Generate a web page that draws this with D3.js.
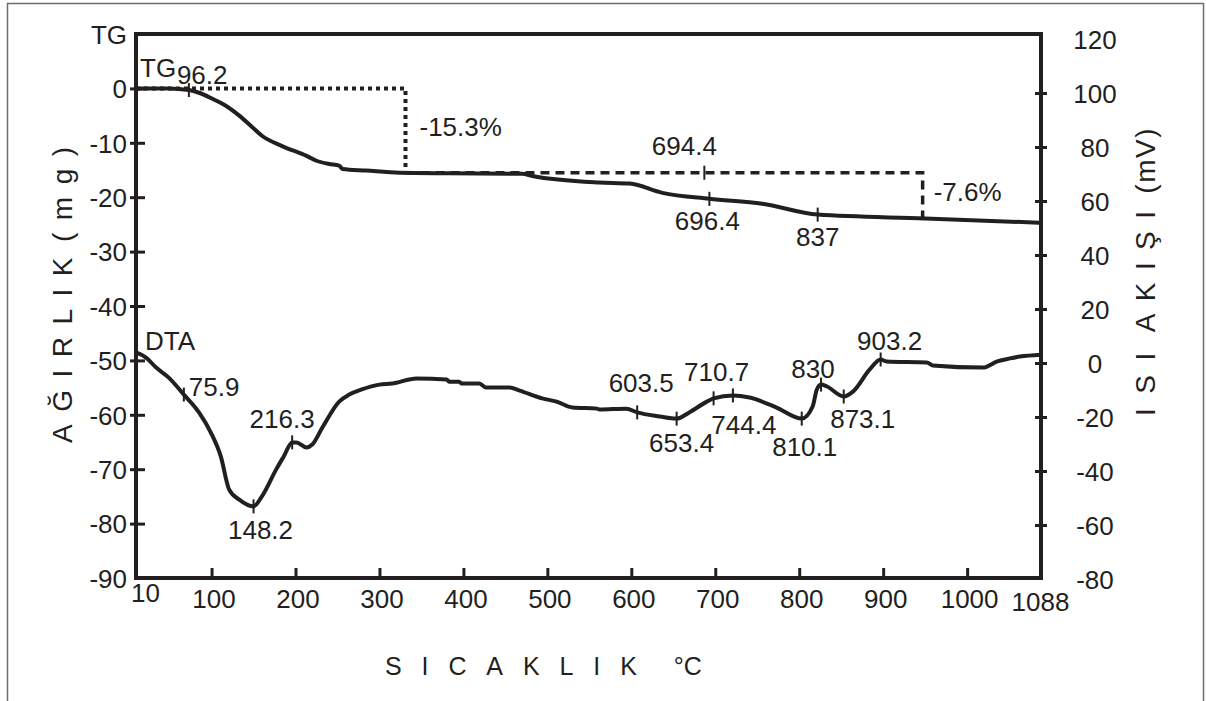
<!DOCTYPE html>
<html>
<head>
<meta charset="utf-8">
<script src="https://cdn.jsdelivr.net/npm/d3@7"></script>
<style>
  body { margin: 0; background: #fff; }
  svg { display: block; font-family: "Liberation Sans", Arial, Helvetica, sans-serif; }
  text { fill: #231f20; }
</style>
</head>
<body>
<svg id="chart" width="1206" height="701"></svg>
<script>
// TG curve (weight, mg)
const tgTemp = [10, 49, 73, 85, 101, 115, 133, 147, 160, 184, 213, 225, 240, 252, 256, 284, 324, 383, 470, 482, 562, 598, 637, 693, 756, 822, 950, 1088];
const tgMass = [0, 0, -0.3, -0.8, -1.9, -3.0, -5.0, -6.9, -8.7, -10.6, -12.4, -13.3, -13.9, -14.2, -14.8, -15.1, -15.5, -15.6, -15.7, -16.1, -17.3, -17.5, -19.2, -20.3, -21.2, -23.2, -23.9, -24.7];

// DTA curve (heat flow, mV)
const dtaTemp = [10, 22, 34, 49, 67, 85, 99, 111, 121, 133, 150, 160, 177, 186, 196, 201, 213, 220, 232, 252, 264, 279, 300, 315, 344, 380, 383, 395, 398, 419, 427, 455, 467, 494, 511, 530, 559, 562, 594, 607, 634, 654, 669, 690, 698, 721, 741, 773, 803, 816, 821, 826, 833, 853, 864, 884, 897, 904, 952, 959, 1019, 1036, 1051, 1063, 1088];
const dtaSignal = [3.9, 2.0, -1.7, -5.4, -11.7, -18.3, -25.7, -34.6, -46.9, -50.6, -53.1, -49.4, -39.4, -34.6, -29.4, -29.4, -31.3, -30.2, -23.9, -14.3, -11.7, -9.8, -8.0, -7.6, -5.7, -6.1, -6.9, -6.9, -7.6, -7.6, -9.1, -9.1, -10.2, -13.1, -14.3, -16.5, -16.9, -17.2, -16.9, -18.3, -19.8, -20.6, -18.3, -14.3, -13.1, -12.0, -12.8, -16.5, -20.6, -16.1, -9.8, -8.0, -8.7, -12.4, -10.6, -2.4, 1.3, 0.6, 0.2, -0.9, -1.7, 0.6, 1.7, 2.4, 3.1];

// mass-loss steps
const dottedTemp = [10, 331, 331];
const dottedMass = [0, 0, -15.5];
const dashedTemp = [331, 947, 947];
const dashedMass = [-15.5, -15.5, -23.8];

// marked points
const tgMarkTemp = [73, 693, 822];
const tgMarkLabel = ["96.2", "696.4", "837"];
const stepMarkTemp = [687];
const stepMarkLabel = ["694.4"];
const dtaMarkTemp = [67, 150, 196, 607, 654, 698, 721, 803, 826, 853, 897];
const dtaMarkLabel = ["75.9", "148.2", "216.3", "603.5", "653.4", "710.7", "744.4", "810.1", "830", "873.1", "903.2"];

// axis ticks
const xTicks = [10, 100, 200, 300, 400, 500, 600, 700, 800, 900, 1000, 1088];
const leftTicks = [-90, -80, -70, -60, -50, -40, -30, -20, -10, 0, 10];
const rightTicks = [-80, -60, -40, -20, 0, 20, 40, 60, 80, 100, 120];

// label placement (anchor, dx, dy from the mark, px)
const labelPlace = {
  "96.2": ["start", -12, -15], "696.4": ["middle", -2, 22], "837": ["middle", 0, 22],
  "694.4": ["middle", -20, -27],
  "75.9": ["start", 5, -8], "148.2": ["middle", 7, 23], "216.3": ["middle", -10, -24],
  "603.5": ["middle", 4, -30], "653.4": ["middle", 5, 24], "710.7": ["middle", 3, -27],
  "744.4": ["middle", 11, 29], "810.1": ["middle", 3, 28], "830": ["middle", -8, -16],
  "873.1": ["middle", 19, 22], "903.2": ["middle", 9, -19],
};

const ink = "#231f20";
const fontSize = 26;
const svg = d3.select("#chart");

const x = d3.scaleLinear().domain([10, 1088]).range([136, 1041]);
const yL = d3.scaleLinear().domain([-90, 10]).range([578, 34]);
const yR = d3.scaleLinear().domain([-80, 120]).range([579, 39]);

// outer border
svg.append("rect")
  .attr("x", 7.5).attr("y", 3.5).attr("width", 1196).attr("height", 720)
  .attr("fill", "none").attr("stroke", "#6d6e70").attr("stroke-width", 1.5);

function interp(xs, ys, v) {
  const i = Math.max(1, Math.min(xs.length - 1, d3.bisectLeft(xs, v)));
  const t = (v - xs[i - 1]) / (xs[i] - xs[i - 1]);
  return ys[i - 1] + t * (ys[i] - ys[i - 1]);
}

// step lines
const stepLine = d3.line().x((d) => x(d[0])).y((d) => yL(d[1]));
svg.append("path")
  .attr("d", stepLine(d3.zip(dottedTemp, dottedMass)))
  .attr("fill", "none").attr("stroke", ink).attr("stroke-width", 4)
  .attr("stroke-dasharray", "4,4");
svg.append("path")
  .attr("d", stepLine(d3.zip(dashedTemp, dashedMass)))
  .attr("fill", "none").attr("stroke", ink).attr("stroke-width", 3.5)
  .attr("stroke-dasharray", "9,6");

// curves
svg.append("path")
  .attr("d", d3.line().x((d) => x(d[0])).y((d) => yL(d[1])).curve(d3.curveMonotoneX)(d3.zip(tgTemp, tgMass)))
  .attr("fill", "none").attr("stroke", ink).attr("stroke-width", 4).attr("stroke-linejoin", "round");
svg.append("path")
  .attr("d", d3.line().x((d) => x(d[0])).y((d) => yR(d[1])).curve(d3.curveMonotoneX)(d3.zip(dtaTemp, dtaSignal)))
  .attr("fill", "none").attr("stroke", ink).attr("stroke-width", 4).attr("stroke-linejoin", "round");

// marks with labels
function drawMarks(temps, labels, yOf) {
  temps.forEach((t, i) => {
    const px = x(t);
    const py = yOf(t);
    svg.append("line")
      .attr("x1", px).attr("x2", px).attr("y1", py - 7).attr("y2", py + 7)
      .attr("stroke", ink).attr("stroke-width", 2);
    const [anchor, dx, dy] = labelPlace[labels[i]];
    svg.append("text")
      .attr("x", px + dx).attr("y", py + dy + fontSize * 0.36)
      .attr("text-anchor", anchor).attr("font-size", fontSize)
      .text(labels[i]);
  });
}
drawMarks(tgMarkTemp, tgMarkLabel, (t) => yL(interp(tgTemp, tgMass, t)));
drawMarks(stepMarkTemp, stepMarkLabel, () => yL(dashedMass[0]));
drawMarks(dtaMarkTemp, dtaMarkLabel, (t) => yR(interp(dtaTemp, dtaSignal, t)));

// curve names and step labels
function note(text, px, py, anchor = "start") {
  svg.append("text").attr("x", px).attr("y", py + fontSize * 0.36)
    .attr("text-anchor", anchor).attr("font-size", fontSize).text(text);
}
note("TG", x(10) + 4, 68);
note("DTA", x(10) + 9, 341);
note("-15.3%", x(dottedTemp[1]) + 14, 127);
note("-7.6%", x(dashedTemp[1]) + 11, 192);

// frame
svg.append("rect")
  .attr("x", x(10)).attr("y", yL(10))
  .attr("width", x(1088) - x(10)).attr("height", yL(-90) - yL(10))
  .attr("fill", "none").attr("stroke", ink).attr("stroke-width", 4);

// left axis
const gl = svg.append("g").attr("transform", `translate(${x(10)},0)`)
  .call(d3.axisLeft(yL).tickValues(leftTicks).tickSizeInner(6).tickSizeOuter(0).tickPadding(3)
    .tickFormat((d) => (d === 10 ? "TG" : String(d))));
gl.select(".domain").remove();
gl.selectAll(".tick line").attr("x1", 9).attr("stroke", ink).attr("stroke-width", 3)
  .filter((d) => d === -90 || d === 10).remove();
gl.selectAll(".tick text").attr("font-size", fontSize).attr("font-family", null).attr("fill", ink)
  .attr("dy", "0.36em");

// right axis
const gr = svg.append("g").attr("transform", `translate(${x(1088)},0)`)
  .call(d3.axisRight(yR).tickValues(rightTicks).tickSizeInner(6).tickSizeOuter(0)
    .tickFormat((d) => String(d)));
gr.select(".domain").remove();
gr.selectAll(".tick line").attr("x1", -6).attr("stroke", ink).attr("stroke-width", 3)
  .filter((d) => d === -80 || d === 120).remove();
gr.selectAll(".tick text").attr("font-size", fontSize).attr("font-family", null).attr("fill", ink)
  .attr("x", 54).attr("text-anchor", "middle").attr("dy", "0.36em");

// bottom axis
const gb = svg.append("g").attr("transform", `translate(0,${yL(-90)})`)
  .call(d3.axisBottom(x).tickValues(xTicks).tickSizeInner(-10).tickSizeOuter(0)
    .tickFormat((d) => String(d)));
gb.select(".domain").remove();
gb.selectAll(".tick line").attr("stroke", ink).attr("stroke-width", 3)
  .filter((d) => d === 10 || d === 1088).remove();
gb.selectAll(".tick text").attr("font-size", fontSize).attr("font-family", null).attr("fill", ink)
  .attr("dy", 0).attr("y", 30).attr("dx", 2)
  .filter((d) => d === 10).attr("y", 24).attr("dx", 9);
gb.selectAll(".tick text").filter((d) => d === 1088).attr("y", 33).attr("dx", -1);

// axis titles
const lt = svg.append("text").attr("transform", "translate(72,443) rotate(-90)")
  .attr("font-size", 28);
lt.append("tspan").attr("letter-spacing", 12.5).text("AĞIRLIK");
lt.append("tspan").attr("dx", 3).attr("letter-spacing", 12.5).text("(mg)");

const rt = svg.append("text").attr("transform", "translate(1155,416) rotate(-90)")
  .attr("font-size", 28);
rt.append("tspan").attr("letter-spacing", 14.5).text("ISI");
rt.append("tspan").attr("dx", 6).attr("letter-spacing", 12.4).text("AKIŞI");
rt.append("tspan").attr("dx", 5).attr("letter-spacing", 1.5).text("(mV)");

const bt = svg.append("text").attr("x", 385).attr("y", 675).attr("font-size", 25);
bt.append("tspan").attr("letter-spacing", 19.9).text("SICAKLIK");
bt.append("tspan").attr("dx", 17).text("°C");
</script>
</body>
</html>
